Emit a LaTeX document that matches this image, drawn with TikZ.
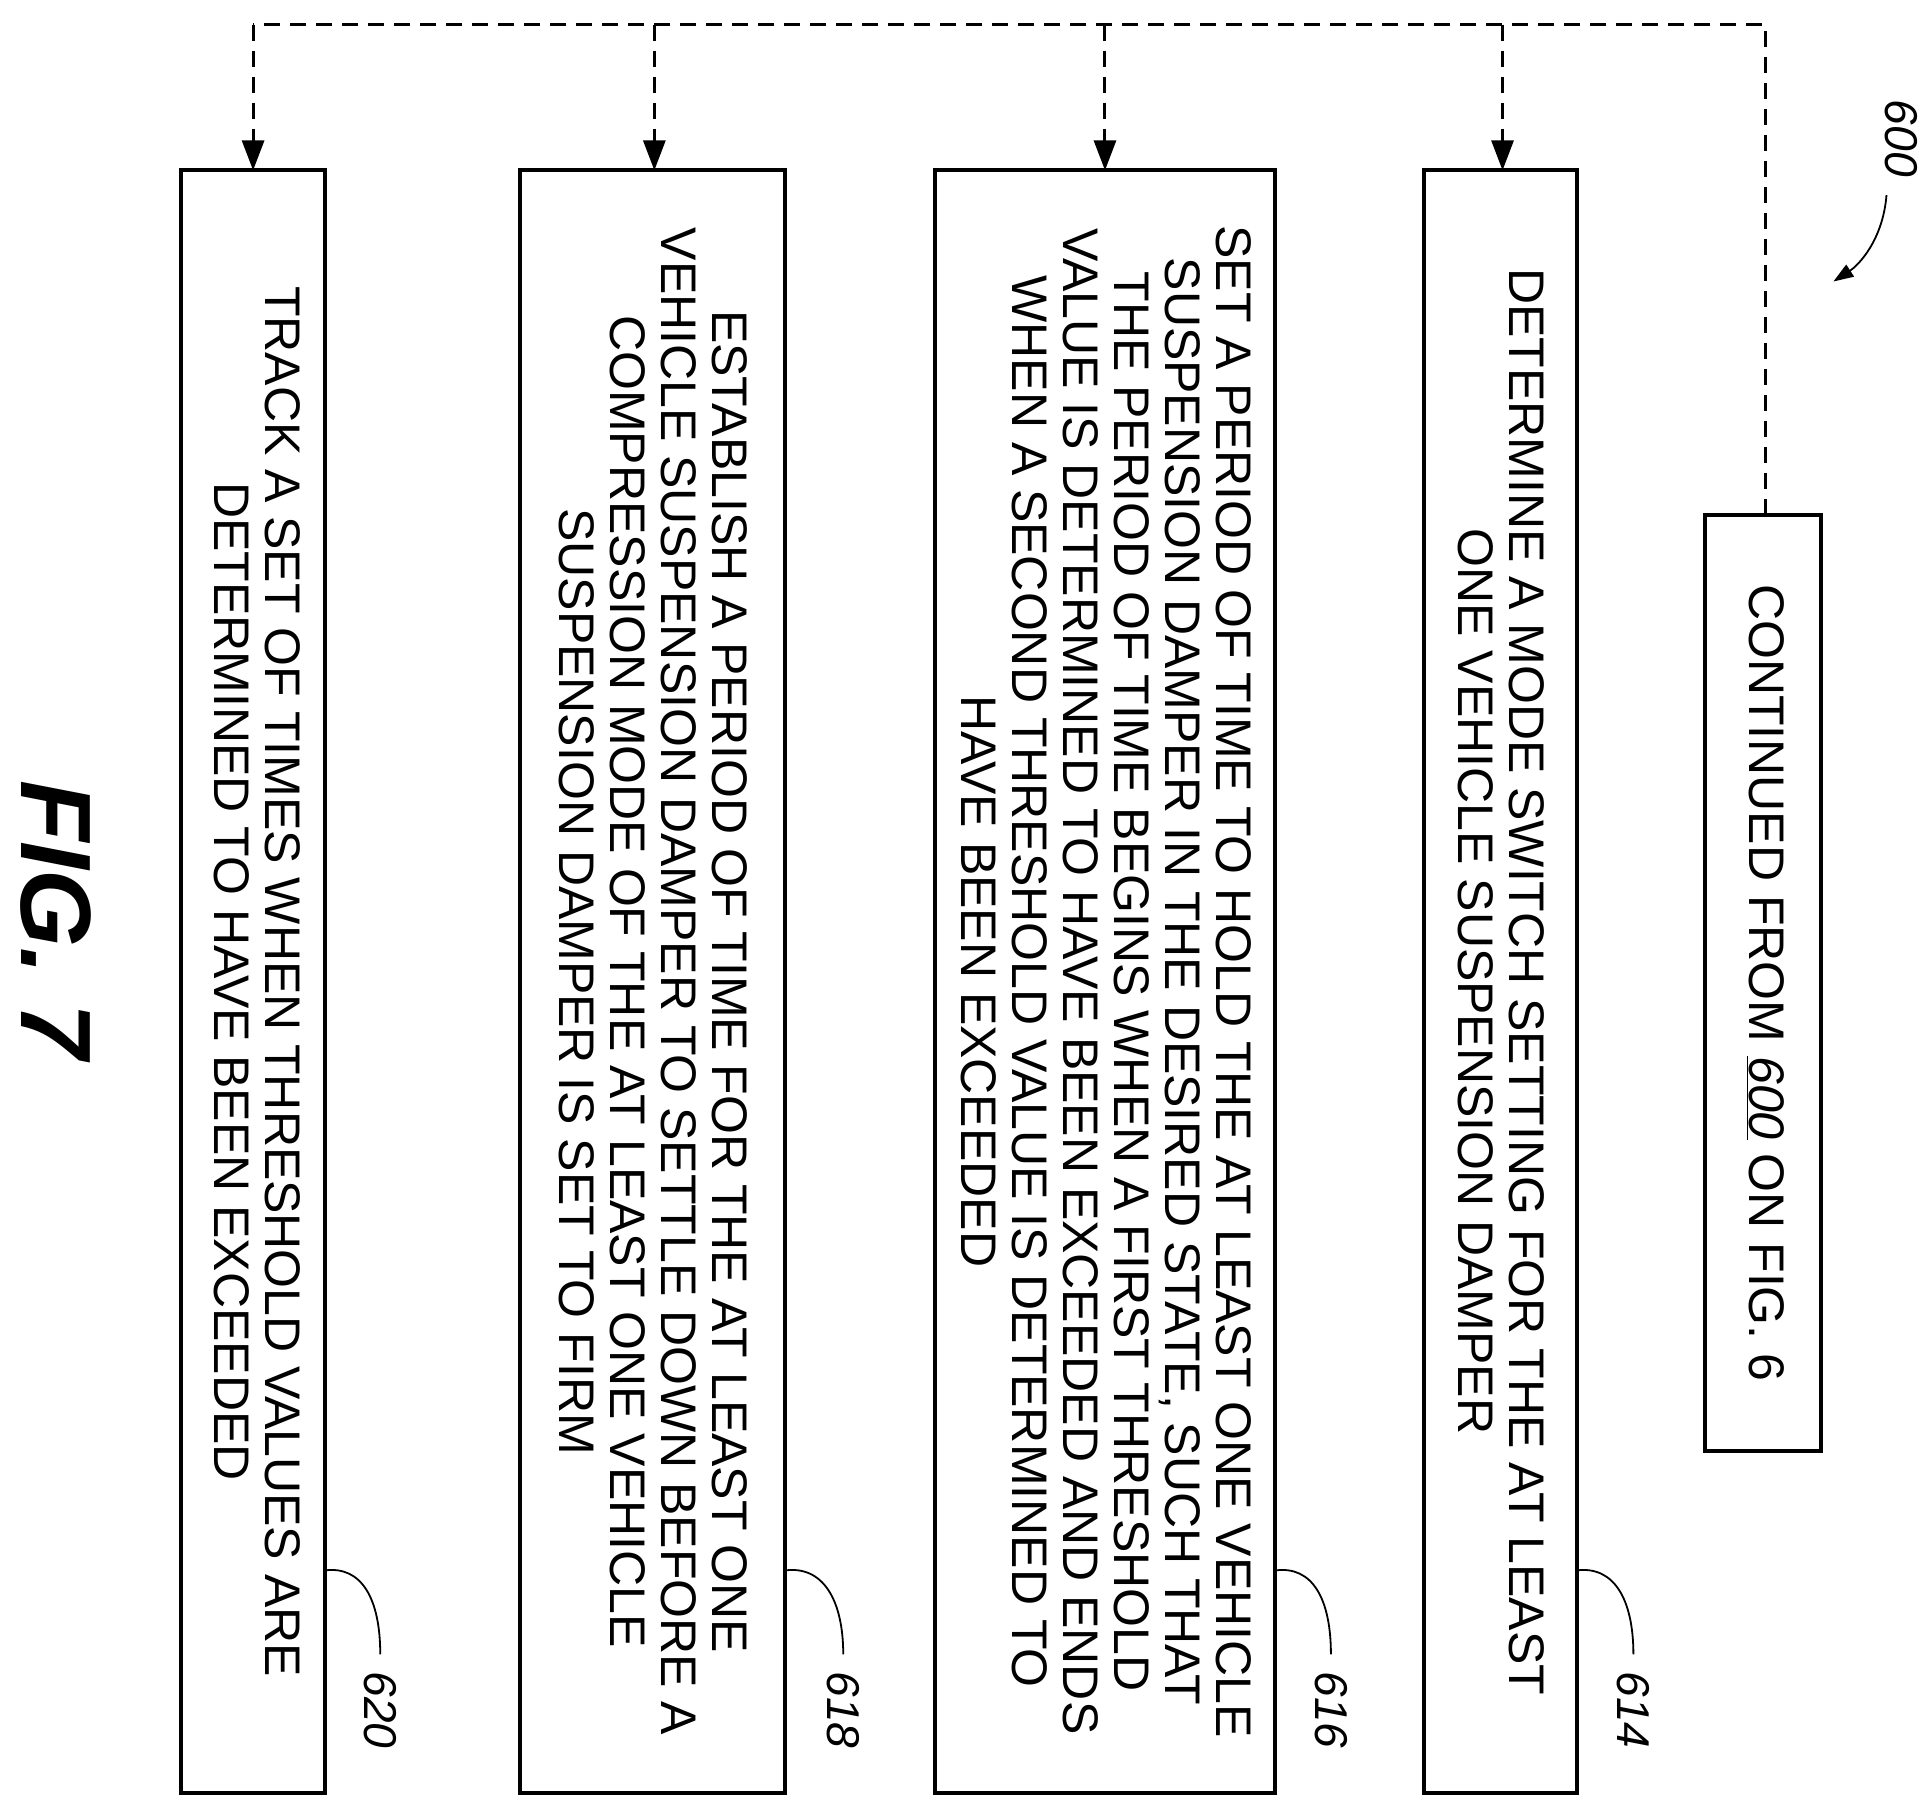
\documentclass[tikz,border=0pt]{standalone}
\usepackage{fontspec}
\setmainfont{Liberation Sans}
\usetikzlibrary{arrows.meta}
\begin{document}
\begin{tikzpicture}[x={(1.2346pt,0)},y={(0,-1.2346pt)},
  box/.style={draw,line width=4pt},
  txt/.style={rotate=-90,align=center,font=\fontsize{50}{51}\selectfont},
  lbl/.style={rotate=-90,font=\fontsize{46}{50}\selectfont\itshape},
  dashln/.style={line width=3pt,dash pattern=on 16pt off 10pt},
  arr/.style={-{Triangle[length=30pt,width=22pt]}},
  lead/.style={line width=1.8pt}]
\useasboundingbox (0,0) rectangle (1560,1465);
\draw[box] (147,138) rectangle (263,1452);
\draw[box] (421,138) rectangle (636,1452);
\draw[box] (757,138) rectangle (1033,1452);
\draw[box] (1153,138) rectangle (1277,1452);
\draw[box] (1381,417) rectangle (1475,1175);
\node[txt] (t620) at (208,795) {TRACK A SET OF TIMES WHEN THRESHOLD VALUES ARE\\DETERMINED TO HAVE BEEN EXCEEDED};
\node[txt] (t618) at (529,795) {ESTABLISH A PERIOD OF TIME FOR THE AT LEAST ONE\\VEHICLE SUSPENSION DAMPER TO SETTLE DOWN BEFORE A\\COMPRESSION MODE OF THE AT LEAST ONE VEHICLE\\SUSPENSION DAMPER IS SET TO FIRM};
\node[txt] (t616) at (896,795) {SET A PERIOD OF TIME TO HOLD THE AT LEAST ONE VEHICLE\\SUSPENSION DAMPER IN THE DESIRED STATE, SUCH THAT\\THE PERIOD OF TIME BEGINS WHEN A FIRST THRESHOLD\\VALUE IS DETERMINED TO HAVE BEEN EXCEEDED AND ENDS\\WHEN A SECOND THRESHOLD VALUE IS DETERMINED TO\\HAVE BEEN EXCEEDED};
\node[txt] (t614) at (1216,795) {DETERMINE A MODE SWITCH SETTING FOR THE AT LEAST\\ONE VEHICLE SUSPENSION DAMPER};
\node[txt] (tc) at (1430,796) {CONTINUED FROM \underline{\itshape 600} ON FIG. 6};
\coordinate (c0) at (1430,417);
\coordinate (c1) at (1430,20);
\coordinate (c2) at (205,20);
\draw[dashln] (c0) -- (c1) -- (c2);
\foreach \x in {205,530,895,1217}{
  \draw[dashln,arr] (\x,20) -- (\x,138);
}
\node[lbl] (l620) at (308,1385) {620};
\node[lbl] (l618) at (683,1385) {618};
\node[lbl] (l616) at (1078,1385) {616};
\node[lbl] (l614) at (1323,1385) {614};
\foreach \a/\b in {263/308,636/683,1033/1078,1277/1323}{
  \draw[lead] (\a,1272) .. controls (\a+30,1268) and (\b,1295) .. (\b,1340);
}
\node[lbl] (l600) at (1540,112) {600};
\draw[lead,-{Triangle[length=20pt,width=14pt]}] (1528,158) .. controls (1525,195) and (1505,215) .. (1485,228);
\node[rotate=-90,font=\fontsize{100}{110}\selectfont\bfseries\itshape] (fig) at (45,745) {FIG. 7};
\end{tikzpicture}
\end{document}
